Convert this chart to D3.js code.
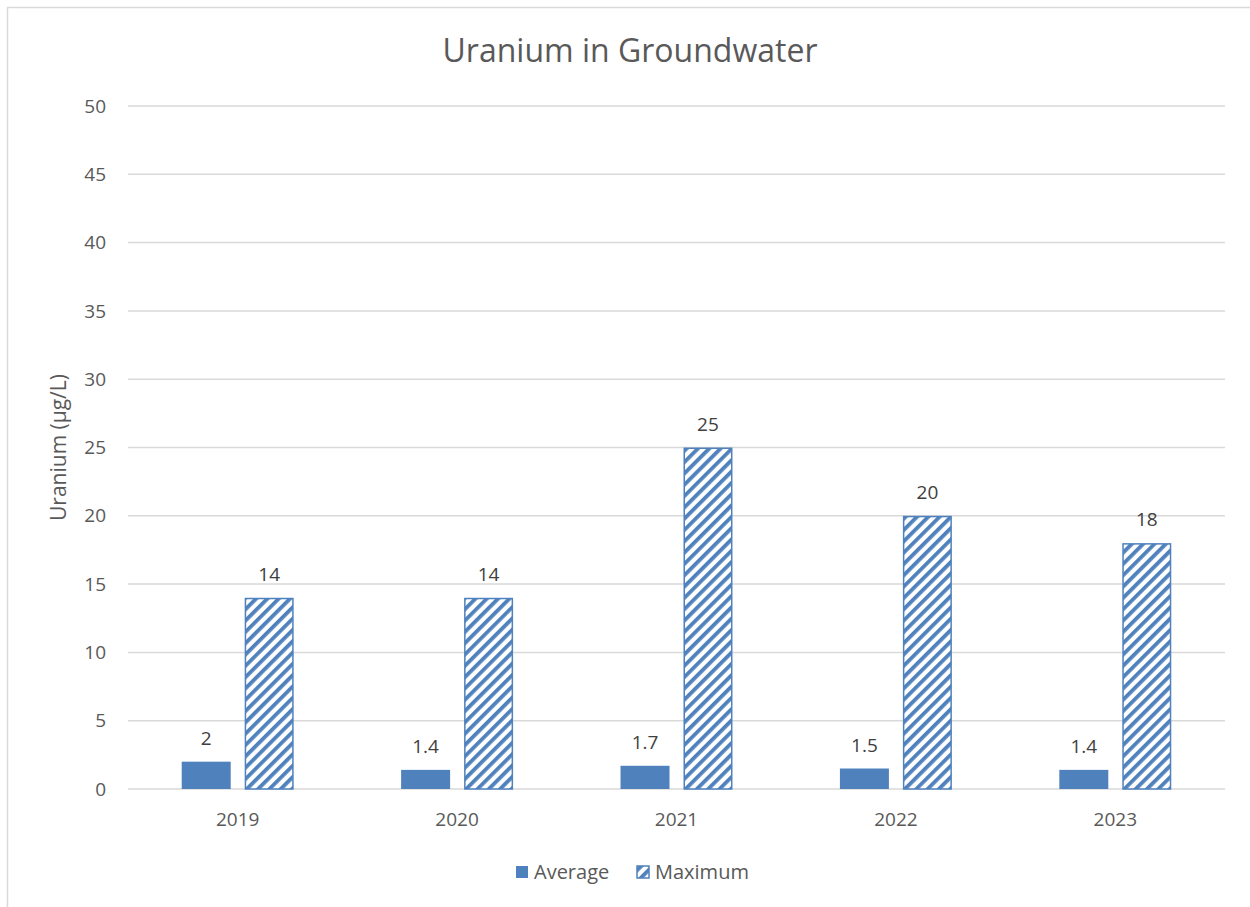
<!DOCTYPE html>
<html>
<head>
<meta charset="utf-8">
<script src="https://cdn.jsdelivr.net/npm/d3@7"></script>
<style>
  body { margin: 0; background: #fff; }
  text { font-family: "Open Sans", "Noto Sans", sans-serif; fill: #595959; }
</style>
</head>
<body>
<div id="chart"></div>
<script>
const years = ["2019", "2020", "2021", "2022", "2023"];
const seriesNames = ["Average", "Maximum"];
const averageVals = [2, 1.4, 1.7, 1.5, 1.4];
const maximumVals = [14, 14, 25, 20, 18];
const yTicks = [0, 5, 10, 15, 20, 25, 30, 35, 40, 45, 50];

const W = 1250, H = 907;
const margin = {top: 106, right: 25, bottom: 118, left: 128};
const blue = "#4f81bd";

const svg = d3.select("#chart").append("svg")
    .attr("width", W).attr("height", H);

// hatch pattern for the Maximum series
const defs = svg.append("defs");
const pat = defs.append("pattern")
    .attr("id", "hatch")
    .attr("patternUnits", "userSpaceOnUse")
    .attr("width", 8).attr("height", 8)
    .attr("patternTransform", "rotate(45)");
pat.append("rect").attr("width", 8).attr("height", 8).attr("fill", "#fff");
pat.append("rect").attr("width", 3.8).attr("height", 8).attr("fill", blue);

// chart border
svg.append("rect")
    .attr("x", 7.5).attr("y", 7.5)
    .attr("width", W + 10).attr("height", H + 10)
    .attr("fill", "none").attr("stroke", "#d9d9d9").attr("stroke-width", 1.5);

const x0 = d3.scaleBand()
    .domain(years)
    .range([margin.left, W - margin.right]);

const x1 = d3.scaleBand()
    .domain(seriesNames)
    .range([0, x0.bandwidth()])
    .paddingInner(0.222)
    .paddingOuter(0.853);

const y = d3.scaleLinear()
    .domain([0, 50])
    .range([H - margin.bottom, margin.top]);

// gridlines
svg.append("g")
  .selectAll("line")
  .data(yTicks)
  .join("line")
    .attr("x1", margin.left).attr("x2", W - margin.right)
    .attr("y1", d => y(d)).attr("y2", d => y(d))
    .attr("stroke", "#d9d9d9").attr("stroke-width", 1.5);

// y tick labels
svg.append("g")
  .selectAll("text")
  .data(yTicks)
  .join("text")
    .attr("x", 106).attr("y", d => y(d))
    .attr("dy", "0.35em")
    .attr("text-anchor", "end")
    .attr("font-size", 19)
    .text(d => d);

// x tick labels
svg.append("g")
  .selectAll("text")
  .data(years)
  .join("text")
    .attr("x", d => x0(d) + x0.bandwidth() / 2)
    .attr("y", y(0) + 37)
    .attr("text-anchor", "middle")
    .attr("font-size", 19)
    .text(d => d);

const groups = svg.append("g")
  .selectAll("g")
  .data(years.map((yr, i) => ({year: yr, vals: [averageVals[i], maximumVals[i]]})))
  .join("g")
    .attr("transform", d => `translate(${x0(d.year)},0)`);

groups.selectAll("rect")
  .data(d => d.vals.map((v, k) => ({key: seriesNames[k], v})))
  .join("rect")
    .attr("x", d => x1(d.key) + (d.key === "Maximum" ? 0.75 : 0))
    .attr("y", d => y(d.v) + (d.key === "Maximum" ? 0.75 : 0))
    .attr("width", d => x1.bandwidth() - (d.key === "Maximum" ? 1.5 : 0))
    .attr("height", d => y(0) - y(d.v) - (d.key === "Maximum" ? 0.75 : 0))
    .attr("fill", d => d.key === "Average" ? blue : "url(#hatch)")
    .attr("stroke", d => d.key === "Average" ? "none" : blue)
    .attr("stroke-width", 1.5);

groups.selectAll("text")
  .data(d => d.vals.map((v, k) => ({key: seriesNames[k], v})))
  .join("text")
    .attr("x", d => x1(d.key) + x1.bandwidth() / 2)
    .attr("y", d => y(d.v) - 17)
    .attr("text-anchor", "middle")
    .attr("font-size", 19)
    .style("fill", "#404040")
    .text(d => d.v);

// title
svg.append("text")
    .attr("x", 630).attr("y", 62)
    .attr("text-anchor", "middle")
    .attr("font-size", 32)
    .text("Uranium in Groundwater");

// y axis title
svg.append("text")
    .attr("transform", `translate(66,${(y(0) + y(50)) / 2}) rotate(-90)`)
    .attr("text-anchor", "middle")
    .attr("font-size", 21)
    .text("Uranium (µg/L)");

// legend
const legend = svg.append("g");
const legItems = [
  {name: "Average", x: 516, fill: blue},
  {name: "Maximum", x: 637, fill: "url(#hatch)"}
];
legItems.forEach(it => {
  legend.append("rect")
      .attr("x", it.x).attr("y", 866)
      .attr("width", 12).attr("height", 12)
      .attr("fill", it.fill)
      .attr("stroke", it.name === "Maximum" ? blue : "none")
      .attr("stroke-width", 1.5);
  legend.append("text")
      .attr("x", it.x + 18).attr("y", 872)
      .attr("dy", "0.35em")
      .attr("font-size", 20)
      .text(it.name);
});
</script>
</body>
</html>
